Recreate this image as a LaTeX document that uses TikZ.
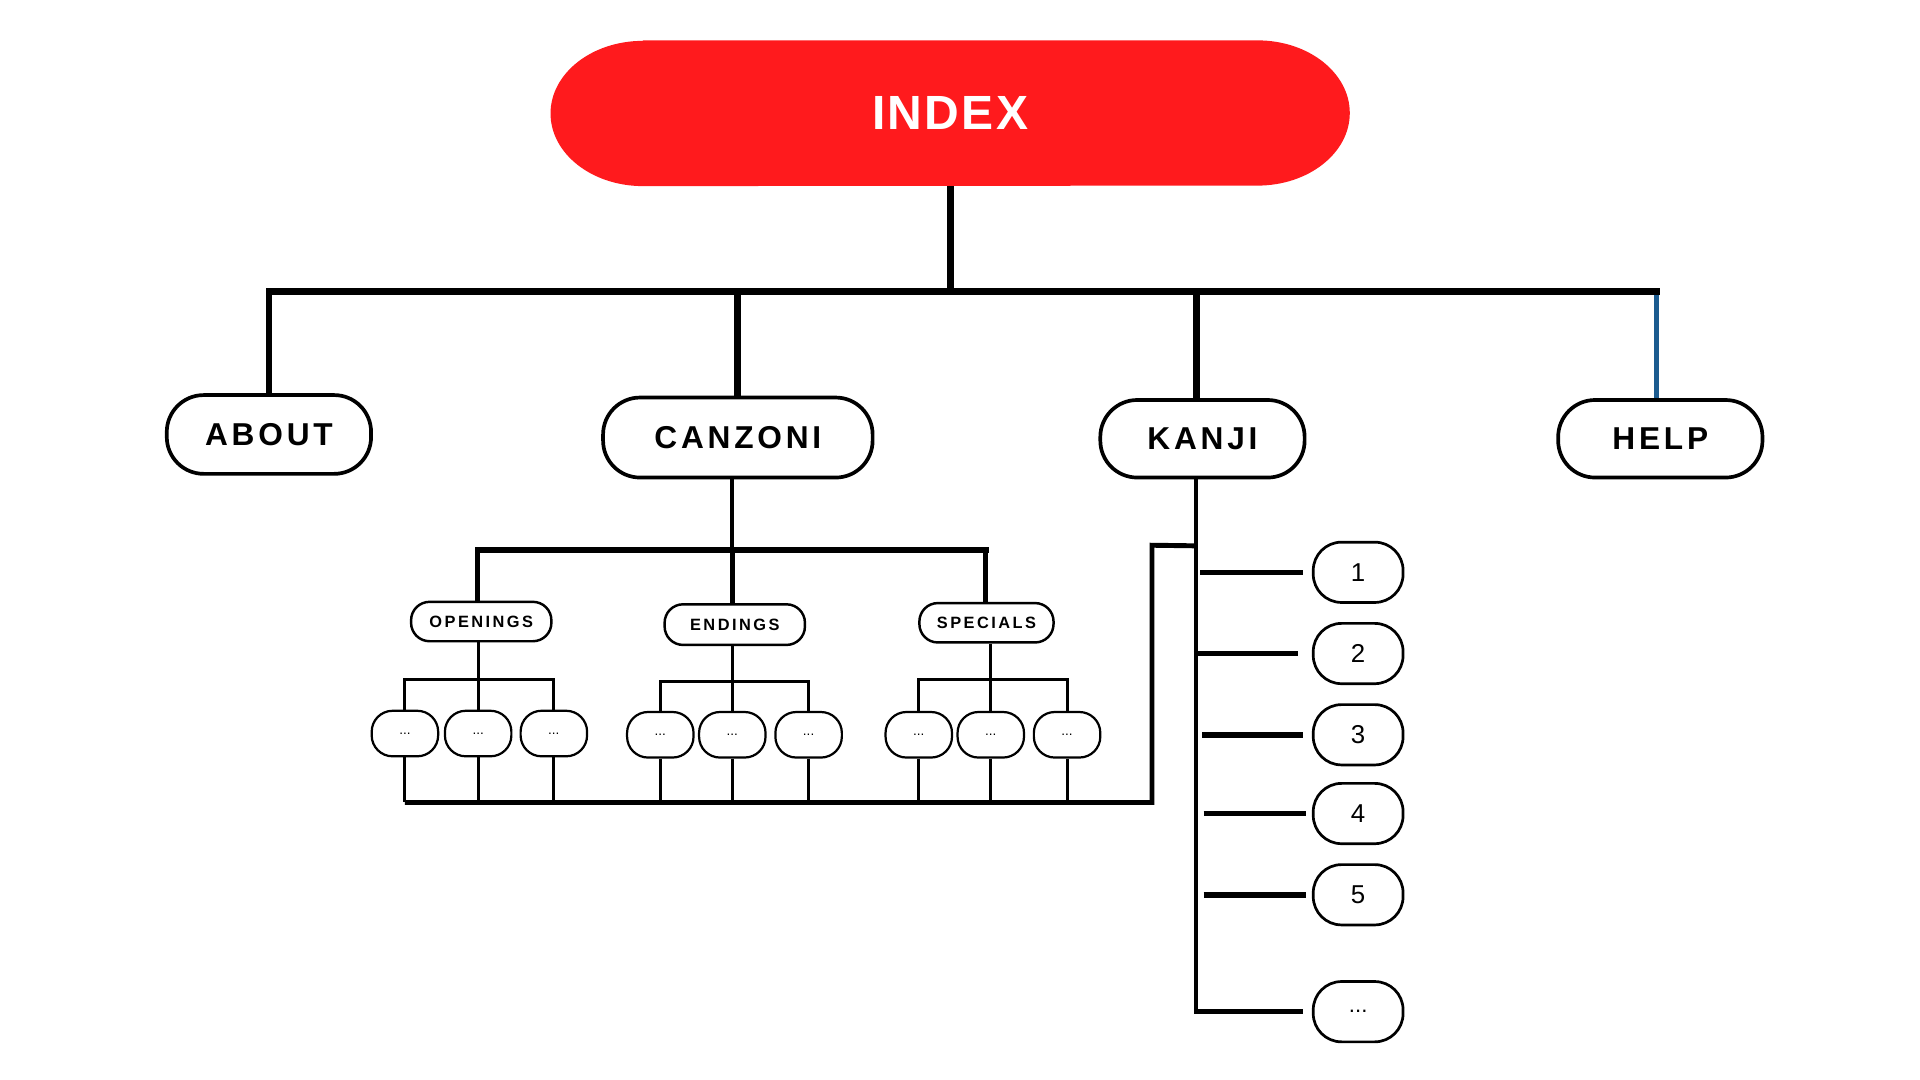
\documentclass[tikz,border=0pt]{standalone}
\usepackage{fontspec}
\setmainfont{Liberation Sans}
\newfontfamily\idxfont[LetterSpace=5]{Liberation Sans}
\newfontfamily\topfont[LetterSpace=12]{Liberation Sans}
\newfontfamily\subfont[LetterSpace=15]{Liberation Sans}
\definecolor{idxred}{HTML}{FF1A1D}
\definecolor{helpblue}{HTML}{1B5B8F}
\begin{document}
\begin{tikzpicture}[x=1pt,y=-1pt,
  idx/.style={inner sep=0pt, minimum width=649pt, minimum height=118pt, text=white, font=\idxfont\bfseries\fontsize{39}{42}\selectfont},
  topnode/.style={draw=black, fill=white, line width=3pt, rounded corners=30pt, minimum width=166pt, minimum height=64pt, inner sep=0pt, font=\topfont\bfseries\fontsize{25.7}{28}\selectfont},
  subnode/.style={draw=black, fill=white, line width=2pt, rounded corners=15pt, minimum width=114pt, minimum height=32pt, inner sep=0pt, font=\subfont\bfseries\fontsize{13.3}{15}\selectfont},
  leaf/.style={draw=black, fill=white, line width=1.8pt, rounded corners=17pt, minimum width=54pt, minimum height=37pt, inner sep=0pt, font=\fontsize{11}{12}\selectfont},
  item/.style={draw=black, fill=white, line width=2.2pt, rounded corners=23pt, minimum width=73pt, minimum height=49pt, inner sep=0pt, font=\fontsize{21}{24}\selectfont},
  wa/.style={line width=5.5pt},
  wb/.style={line width=4.5pt},
  wc/.style={line width=3.5pt},
  wd/.style={line width=2.5pt},
]
\useasboundingbox (0,0) rectangle (1560,877.5);

% ---------- nodes ----------
\node[idx] (index) at (772,92) {INDEX};
\fill[idxred] ([xshift=75pt]index.north west) -- ([xshift=-75pt]index.north east)
  arc[start angle=90, end angle=-90, x radius=75pt, y radius=59pt]
  -- ([xshift=75pt]index.south west)
  arc[start angle=270, end angle=90, x radius=75pt, y radius=59pt] -- cycle;
\node[idx] at (index.center) {INDEX};

\node[topnode] (about) at (218.5,353) {ABOUT};
\node[topnode, minimum width=219pt, minimum height=65pt] (canzoni) at (599.5,355.5) {CANZONI};
\node[topnode, minimum height=63pt] (kanji) at (977,356.5) {KANJI};
\node[topnode, minimum height=63pt] (help) at (1349,356.5) {HELP};

\node[subnode] (openings) at (391,505) {OPENINGS};
\node[subnode, minimum height=33pt] (endings) at (597,507.5) {ENDINGS};
\node[subnode, minimum width=109pt] (specials) at (801.5,506) {SPECIALS};

\node[leaf] (o1) at (329,596) {...};
\node[leaf] (o2) at (388.5,596) {...};
\node[leaf] (o3) at (450,596) {...};
\node[leaf] (e1) at (536.5,597) {...};
\node[leaf] (e2) at (595,597) {...};
\node[leaf] (e3) at (657,597) {...};
\node[leaf] (s1) at (746.5,597) {...};
\node[leaf] (s2) at (805,597) {...};
\node[leaf] (s3) at (867,597) {...};

\node[item] (k1) at (1103.5,465) {1};
\node[item] (k2) at (1103.5,531) {2};
\node[item] (k3) at (1103.5,597) {3};
\node[item] (k4) at (1103.5,661) {4};
\node[item] (k5) at (1103.5,727) {5};
\node[item, font=\fontsize{18}{20}\selectfont] (k6) at (1103.5,822) {...};

% ---------- top level ----------
\coordinate (bL) at (218.5,237);
\coordinate (bR) at (1346,237);
\coordinate (kj) at (972,237);
\draw[helpblue, line width=4.5pt] (bR) -- (bR |- help.north);
\draw[wa] (index.south) -- (index.south |- bL);
\draw[wa, line cap=rect] (bL) -- (bR);
\draw[wa] (bL) -- (about.north);
\draw[wa] (canzoni.north |- bL) -- (canzoni.north);
\draw[wa] (kj) -- (kj |- kanji.north);

% ---------- CANZONI ----------
\coordinate (cj) at (595,447);
\coordinate (cL) at (388,447);
\coordinate (cR) at (801,447);
\draw[wc] (cj |- canzoni.south) -- (cj);
\draw[wb, line cap=rect] (cL) -- (cR);
\draw[line width=4pt] (cL) -- (cL |- openings.north);
\draw[line width=4pt] (cj) -- (cj |- endings.north);
\draw[line width=4pt] (cR) -- (cR |- specials.north);

% ---------- groups ----------
\coordinate (ob) at (0,552);
\coordinate (eb) at (0,554);
\coordinate (sb) at (0,552);
\draw[wd] (openings.south -| o2.north) -- (o2.north);
\draw[wd, line join=miter] (o1.north) -- (o1.north |- ob) -- (o3.north |- ob) -- (o3.north);
\draw[wd] (endings.south -| e2.north) -- (e2.north);
\draw[wd, line join=miter] (e1.north) -- (e1.north |- eb) -- (e3.north |- eb) -- (e3.north);
\draw[wd] (specials.south -| s2.north) -- (s2.north);
\draw[wd, line join=miter] (s1.north) -- (s1.north |- sb) -- (s3.north |- sb) -- (s3.north);

% ---------- bottom bus ----------
\coordinate (bus) at (0,652);
\coordinate (busR) at (936,652);
\coordinate (up) at (936,443);
\coordinate (spJ) at (972,443.5);
\foreach \n in {o1,o2,o3,e1,e2,e3,s1,s2,s3}{
  \draw[wd] (\n.south) -- (\n.south |- bus);
}
\draw[line width=4pt, line join=miter] (o1.south |- bus) -- (busR) -- (up) -- (spJ);

% ---------- KANJI ----------
\coordinate (sp) at (972,822);
\draw[wc] (sp |- kanji.south) -- (sp);
\draw[wb, shorten >=7pt] ([xshift=3pt]sp |- k1.west) -- (k1.west);
\draw[wb, shorten >=11pt] ([xshift=-2pt]sp |- k2.west) -- (k2.west);
\draw[wb, shorten >=7pt] ([xshift=5pt]sp |- k3.west) -- (k3.west);
\draw[wb, shorten >=5pt] ([xshift=6pt]sp |- k4.west) -- (k4.west);
\draw[wb, shorten >=5pt] ([xshift=6pt]sp |- k5.west) -- (k5.west);
\draw[wb, shorten >=7pt] ([xshift=-1.75pt]sp) -- (k6.west);
\end{tikzpicture}
\end{document}
